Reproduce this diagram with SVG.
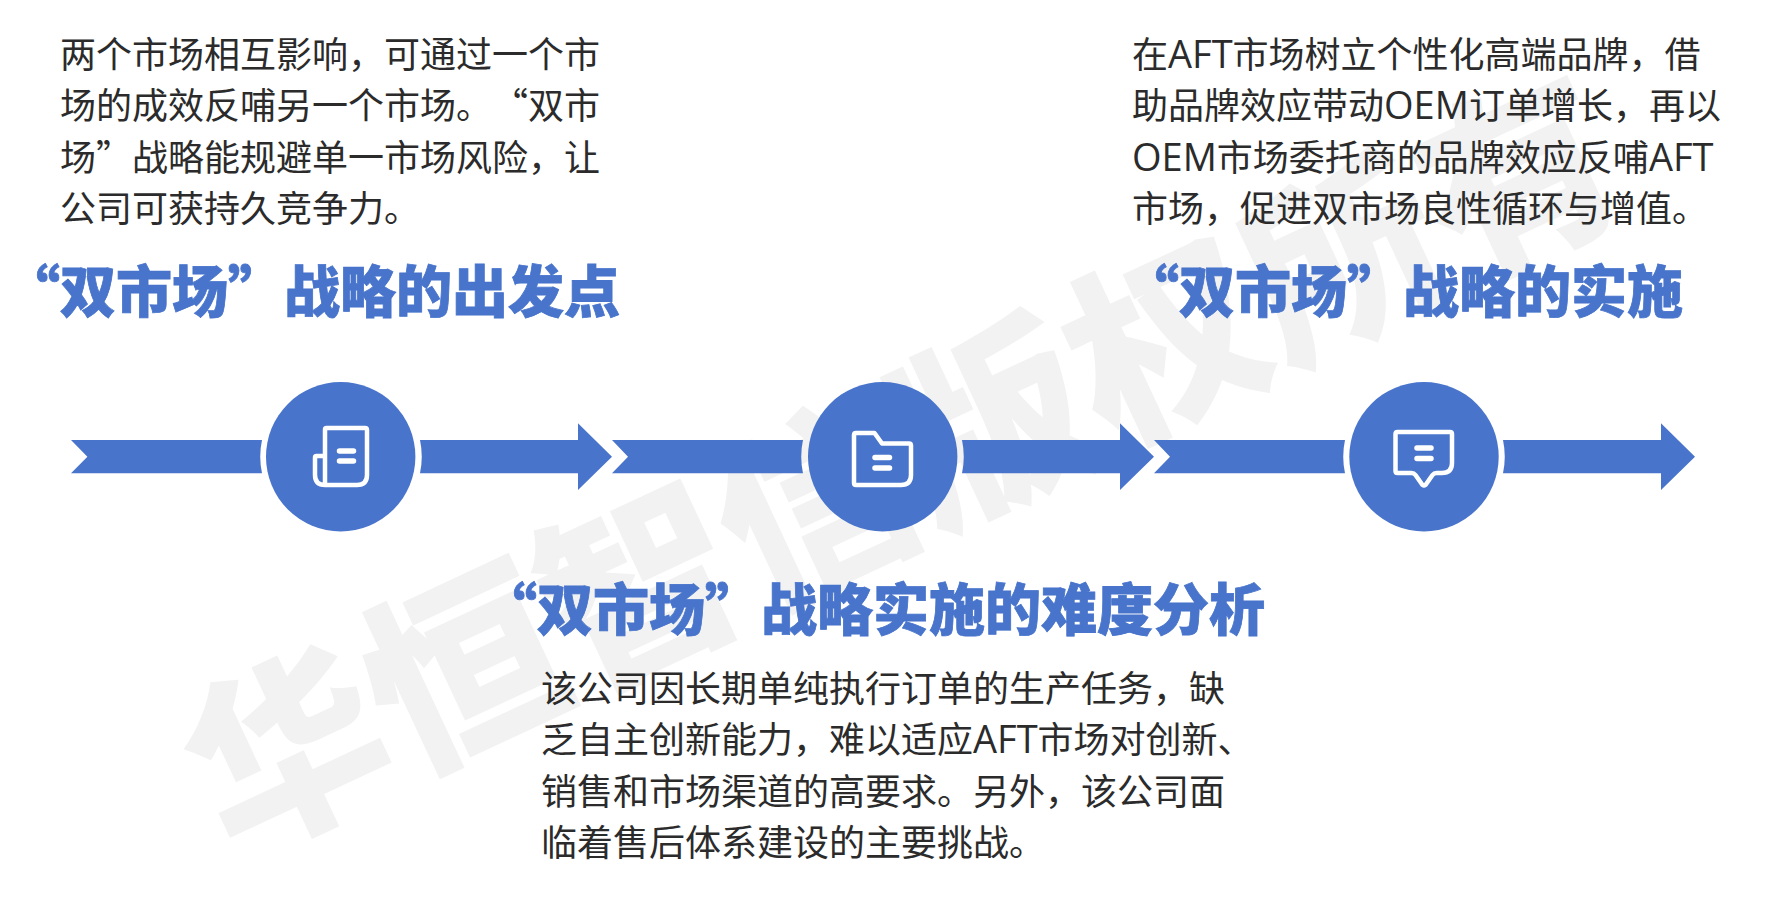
<svg xmlns="http://www.w3.org/2000/svg" width="1788" height="901" viewBox="0 0 1788 901">
<style>
text{font-family:"Noto Sans CJK SC","Noto Sans",sans-serif;text-spacing-trim:space-all}
.b{font-size:36px;fill:#2b2b2b}
.t{font-size:56px;font-weight:900;fill:#4874cb;stroke:#4874cb;stroke-width:.8}
.l{font-family:"Open Sans","Noto Sans CJK SC",sans-serif;font-size:38px}
.wm{font-size:194px;font-weight:900;fill:#f2f2f2}
.bar{fill:#4874cb}
.c{fill:#4874cb}
.i{fill:none;stroke:#fff;stroke-width:4.5;stroke-linejoin:round;stroke-linecap:round}
.d{fill:none;stroke:#fff;stroke-width:5.5;stroke-linecap:round}
</style>
<rect width="1788" height="901" fill="#fff"/>
<text id="watermark" class="wm" transform="translate(933 529) rotate(-25)" text-anchor="middle">华恒智信版权所有</text>
<g id="connectors">
<path class="bar" d="M71 440H262A80 80 0 0 0 262 473.300L71 473.300L87.400 456.700Z"/>
<path class="bar" d="M420 440H578V423.300L612 456.700L578 490V473.300H420A80 80 0 0 0 420 440Z"/>
<path class="bar" d="M612 440H803A80 80 0 0 0 803 473.300H612L628 456.700Z"/>
<path class="bar" d="M962 440H1120V423.300L1154 456.700L1120 490V473.300H962A80 80 0 0 0 962 440Z"/>
<path class="bar" d="M1154 440H1345A80 80 0 0 0 1345 473.300H1154L1170 456.700Z"/>
<path class="bar" d="M1503 440H1661V423.300L1695 456.700L1661 490V473.300H1503A80 80 0 0 0 1503 440Z"/>
</g>
<g id="node-start">
<circle class="c" cx="340.700" cy="456.700" r="74.700"/>
<path class="i" d="M325 456V429.500Q325 428 326.500 428H365Q367 428 367 430V475Q367 485 357 485H325Q315 485 315 475V457.500Q315 456 316.500 456H325V485"/>
<path class="d" d="M339.500 451H353.500M339.500 461H353.500"/>
<text class="t" x="4" y="312">“双市场”战略的出发点</text>
<text class="b" x="60" y="68">两个市场相互影响，可通过一个市</text>
<text class="b" x="60" y="119">场的成效反哺另一个市场。“双市</text>
<text class="b" x="60" y="171">场”战略能规避单一市场风险，让</text>
<text class="b" x="60" y="222">公司可获持久竞争力。</text>
</g>
<g id="node-difficulty">
<circle class="c" cx="882.700" cy="456.700" r="74.700"/>
<path class="i" d="M854 435Q854 433 856 433H874.500L882 443.500H909Q911 443.500 911 445.500V475Q911 485 901 485H856Q854 485 854 483Z"/>
<path class="d" d="M875 457.500H889.500M875 468H889.500"/>
<text class="t" x="481" y="630">“双市场”战略实施的难度分析</text>
<text class="b" x="541" y="702">该公司因长期单纯执行订单的生产任务，缺</text>
<text class="b" x="541" y="753">乏自主创新能力，难以适应<tspan class="l">AFT</tspan>市场对创新、</text>
<text class="b" x="541" y="805">销售和市场渠道的高要求。另外，该公司面</text>
<text class="b" x="541" y="856">临着售后体系建设的主要挑战。</text>
</g>
<g id="node-implementation">
<circle class="c" cx="1424" cy="456.700" r="74.700"/>
<path class="i" d="M1395.500 434Q1395.500 432 1397.500 432H1450Q1452 432 1452 434V463Q1452 473 1442 473H1436.500Q1434 473 1432.500 475L1425.500 485Q1424 486 1422.500 485L1415.500 475Q1414 473 1411.500 473H1397.500Q1395.500 473 1395.500 471Z"/>
<path class="d" d="M1417 448H1431M1417 458.500H1431"/>
<text class="t" x="1123" y="312">“双市场”战略的实施</text>
<text class="b" x="1132" y="68">在<tspan class="l">AFT</tspan>市场树立个性化高端品牌，借</text>
<text class="b" x="1132" y="119">助品牌效应带动<tspan class="l">OEM</tspan>订单增长，再以</text>
<text class="b" x="1132" y="171"><tspan class="l">OEM</tspan>市场委托商的品牌效应反哺<tspan class="l">AFT</tspan></text>
<text class="b" x="1132" y="222">市场，促进双市场良性循环与增值。</text>
</g>
</svg>
